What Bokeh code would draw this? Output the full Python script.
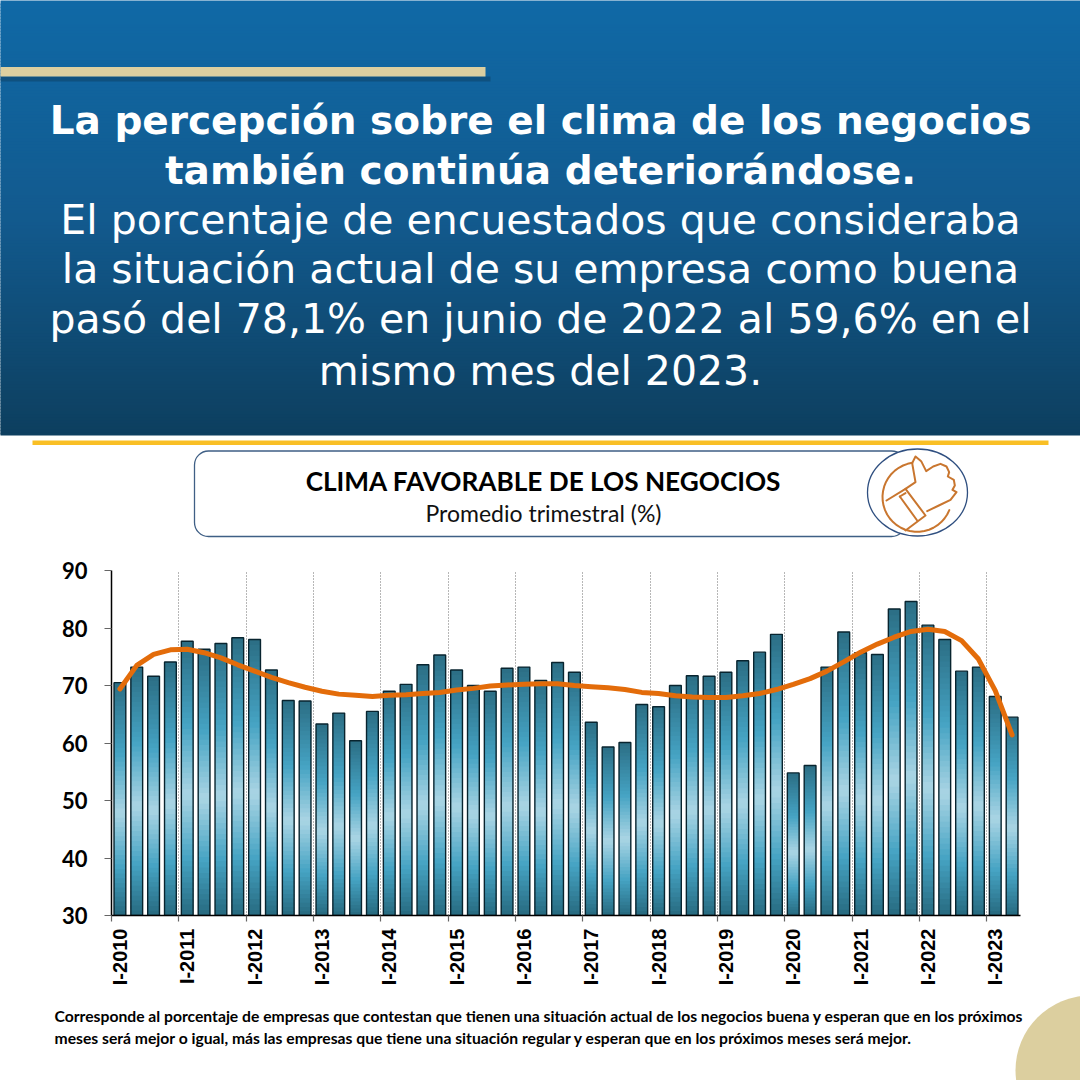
import math
from bokeh.core.properties import value
from bokeh.embed import file_html
from bokeh.models import FixedTicker, LinearAxis, Range1d
from bokeh.plotting import figure
from bokeh.resources import INLINE

# ---------- data ----------
years = list(range(2010, 2024))
tick_labels = [f"I-{y}" for y in years]
y_ticks = [30, 40, 50, 60, 70, 80, 90]
clima = [70.5, 73.2, 71.6, 74.1, 77.7, 76.3, 77.3, 78.3, 78.0, 72.7, 67.4, 67.3, 63.3, 65.2, 60.4, 65.5,
         69.0, 70.2, 73.6, 75.3, 72.7, 70.0, 69.0, 73.0, 73.2, 70.9, 74.0, 72.3, 63.6, 59.3, 60.1, 66.7,
         66.3, 70.0, 71.7, 71.6, 72.3, 74.3, 75.8, 78.9, 54.8, 56.1, 73.2, 79.3, 75.7, 75.4, 83.3, 84.6,
         80.5, 78.0, 72.5, 73.2, 68.1, 64.5]
tendencia = [69.4, 73.5, 75.4, 76.2, 76.3, 75.7, 74.8, 73.6, 72.5, 71.4, 70.5, 69.7, 69.0, 68.5, 68.3, 68.1,
             68.3, 68.4, 68.6, 68.8, 69.2, 69.5, 69.9, 70.1, 70.2, 70.3, 70.3, 70.0, 69.8, 69.6, 69.3, 68.8,
             68.6, 68.2, 68.0, 67.9, 67.9, 68.2, 68.6, 69.3, 70.2, 71.2, 72.5, 74.1, 75.8, 77.2, 78.4, 79.4,
             79.8, 79.4, 77.8, 74.6, 69.1, 61.4]
head_bold = ["La percepción sobre el clima de los negocios", "también continúa deteriorándose."]
head_regular = ["El porcentaje de encuestados que consideraba", "la situación actual de su empresa como buena",
                "pasó del 78,1% en junio de 2022 al 59,6% en el", "mismo mes del 2023."]
titulo = "CLIMA FAVORABLE DE LOS NEGOCIOS"
subtitulo = "Promedio trimestral (%)"
nota = ["Corresponde al porcentaje de  empresas que contestan que tienen una situación actual de los negocios buena y esperan que en los próximos",
        "meses será mejor o igual, más las empresas que tiene una situación regular y esperan que en los próximos meses será mejor."]

W = 1080


def mix(stops, t):
    for (t0, c0), (t1, c1) in zip(stops, stops[1:]):
        if t <= t1:
            f = (t - t0) / (t1 - t0)
            return "#%02x%02x%02x" % tuple(round(a + (b - a) * f) for a, b in zip(c0, c1))
    return "#%02x%02x%02x" % stops[-1][1]


BAR_STOPS = [(0, (0x2c, 0x6f, 0x86)), (.30, (0x45, 0xa3, 0xc3)), (.56, (0xaa, 0xd5, 0xe4)),
             (.80, (0x45, 0xa3, 0xc3)), (1, (0x28, 0x6c, 0x82))]
BG_STOPS = [(0, (0x10, 0x69, 0xa6)), (.5, (0x12, 0x5a, 0x8e)), (1, (0x0d, 0x3f, 0x5f))]


def canvas(h, y0, y1):
    f = figure(width=W, height=h, x_range=Range1d(0, W), y_range=Range1d(y1, y0), output_backend="svg",
               toolbar_location=None, min_border=0, outline_line_color=None)
    f.axis.visible = False
    f.grid.visible = False
    return f


# ---------- header ----------
HEAD_H = 550
head = canvas(HEAD_H, 0, HEAD_H)
n = 145
head.quad(left=-5, right=W + 5, top=[-5 if i == 0 else 435 * i / n for i in range(n)],
          bottom=[min(435, 435 * (i + 1) / n + 2) for i in range(n)],
          fill_color=[mix(BG_STOPS, i / (n - 1)) for i in range(n)], line_color=None)
head.quad(left=-5, right=490, top=[76], bottom=[81], fill_color="#0b2d47", fill_alpha=.35, line_color=None)
head.quad(left=-5, right=485, top=[66.5], bottom=[76], fill_color="#dccfa0", line_color=None)
head.text(x=[540] * 2, y=[120, 170], text=head_bold, text_color="#ffffff", text_align="center",
          text_font=value("DejaVu Sans"), text_font_style="bold", text_font_size="39px", text_baseline="middle")
head.text(x=[540] * 4, y=[219, 268, 318, 370], text=head_regular, text_color="#ffffff", text_align="center",
          text_font=value("DejaVu Sans"), text_font_size="41px", text_baseline="middle")
head.quad(left=32, right=1048, top=[440], bottom=[444.5], fill_color="#f9bf25", line_color=None)
head.quad(left=194, right=905, top=[450.5], bottom=[536], fill_color="#ffffff", line_color="#3f5f85",
          line_width=1.3, border_radius=14)
head.text(x=[543], y=[480], text=[titulo], text_align="center", text_font=value("Lato"), text_font_style="bold",
          text_font_size="26.2px", text_color="#000000", text_baseline="middle")
head.text(x=[543], y=[512], text=[subtitulo], text_align="center", text_font=value("Lato"),
          text_font_size="23px", text_color="#111111", text_baseline="middle")
# thumb icon
head.ellipse(x=[917], y=[492], width=[100], height=[87], fill_color="#ffffff", line_color="#2f4f80", line_width=1.3)
OR = "#c9762f"


def zp(pts):
    return [860 + a / 3 for a, _ in pts], [440 + b / 3 for _, b in pts]


ring = [(170 + 104 * math.cos(math.radians(a)), 170 + 104 * math.sin(math.radians(a))) for a in range(262, 16, -8)]
paths = [
    ring,
    [(155, 68), (165, 48), (182, 62), (197, 92), (218, 78), (240, 70), (258, 78), (266, 95), (262, 108), (280, 118),
     (283, 135), (276, 148), (288, 155), (270, 178), (235, 195), (200, 212)],
    [(78, 180), (135, 145), (195, 225), (135, 270)],
    [(118, 168), (170, 240)], [(118, 168), (135, 158)],
    [(135, 145), (165, 125), (155, 68)],
]
for pth in paths:
    xs, ys = zp(pth)
    head.line(xs, ys, line_color=OR, line_width=2, line_join="round", line_cap="round")

# ---------- chart ----------
x = [i + .5 for i in range(len(clima))]
BW = .70
chart = figure(width=W, height=445, x_range=Range1d(0, 54), y_range=Range1d(30, 90), output_backend="svg",
               toolbar_location=None, min_border_left=111, min_border_right=60, min_border_top=20,
               min_border_bottom=80, outline_line_color=None)
nseg = 50
L, R, T, B, C = [], [], [], [], []
for xi, v in zip(x, clima):
    for s in range(nseg):
        L.append(xi - BW / 2)
        R.append(xi + BW / 2)
        T.append(v - (v - 30) * s / nseg)
        B.append(max(30, v - (v - 30) * (s + 1.7) / nseg))
        C.append(mix(BAR_STOPS, s / (nseg - 1)))
chart.quad(left=L, right=R, top=T, bottom=B, fill_color=C, line_color=None)
chart.vbar(x=x, top=clima, bottom=30, width=BW, fill_color=None, line_color="#08242f", line_width=1.4)
chart.line(x, tendencia, line_color="#e36c0a", line_width=5, line_join="round", line_cap="round")

year_ticks = [4 * i for i in range(len(years))]
chart.xgrid.ticker = FixedTicker(ticks=year_ticks)
chart.xgrid.grid_line_color = "#6f6f6f"
chart.xgrid.grid_line_dash = [1, 2]
chart.xgrid.grid_line_width = 1
chart.ygrid.visible = False
chart.xaxis.ticker = FixedTicker(ticks=year_ticks)
chart.xaxis.major_label_text_color = None
chart.xaxis.major_label_text_font_size = "1px"
chart.xaxis.major_label_standoff = 0
chart.yaxis.ticker = FixedTicker(ticks=y_ticks)
chart.yaxis.major_label_text_font = "Lato"
chart.yaxis.major_label_text_font_style = "bold"
chart.yaxis.major_label_text_font_size = "22px"
chart.yaxis.major_label_text_color = "#000000"
chart.yaxis.major_label_standoff = 17
for ax, ln in ((chart.xaxis, 6), (chart.yaxis, 7)):
    ax.axis_line_color = "#000000"
    ax.axis_line_width = 1.5
    ax.major_tick_out = ln
    ax.major_tick_in = 0
    ax.major_tick_line_color = "#666666"
    ax.major_tick_line_width = 1.2
    ax.minor_tick_line_color = None
# the year labels sit under the first bar of each year, the ticks between bars
label_axis = LinearAxis(ticker=FixedTicker(ticks=[t + .5 for t in year_ticks]),
                        major_label_overrides={t + .5: lab for t, lab in zip(year_ticks, tick_labels)},
                        major_label_orientation=math.pi / 2, major_label_text_font="Liberation Sans",
                        major_label_text_font_style="bold", major_label_text_font_size="20px",
                        major_label_text_color="#000000", major_label_standoff=7, axis_line_color=None,
                        major_tick_line_color=None, minor_tick_line_color=None, major_tick_out=0, major_tick_in=0)
chart.add_layout(label_axis, "below")

# ---------- footer ----------
foot = canvas(1080 - HEAD_H - 445, HEAD_H + 445, 1080)
foot.circle(x=[1090], y=[1070], radius=75, fill_color="#dccf9f", line_color=None)
foot.text(x=[54, 54], y=[1015, 1037], text=nota, text_font=value("Lato"), text_font_style="bold", text_font_size="15.7px",
          text_color="#000000", text_baseline="middle")

open("out.html", "w").write(file_html([head, chart, foot], INLINE))
